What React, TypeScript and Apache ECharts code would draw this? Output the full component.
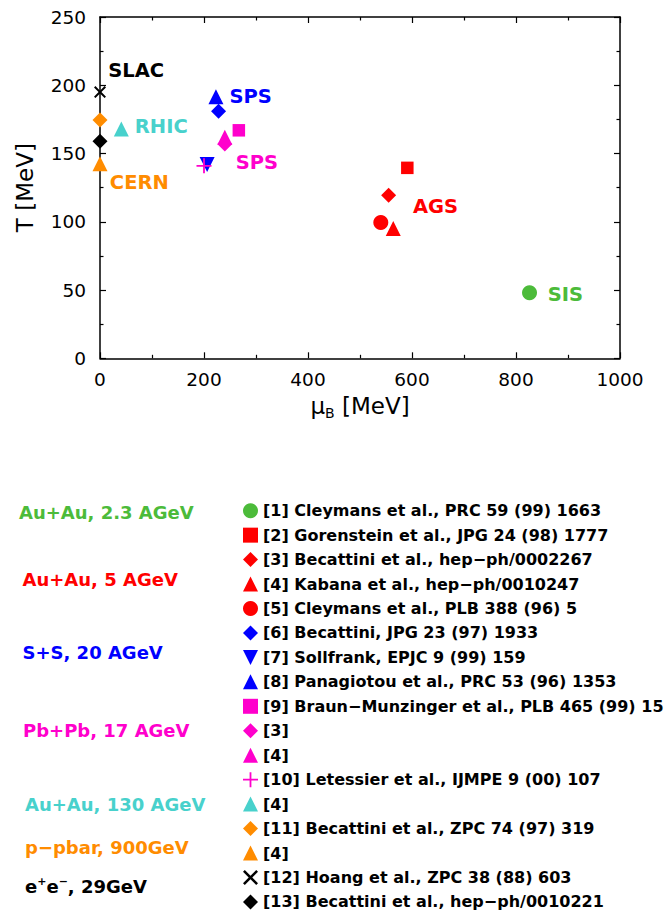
import React, { useEffect, useRef } from "react";
import * as echarts from "echarts";

const FONT = "DejaVu Sans";

// ---- reference series (legend order) ----
const refNames = [
  "[1] Cleymans et al., PRC 59 (99) 1663",
  "[2] Gorenstein et al., JPG 24 (98) 1777",
  "[3] Becattini et al., hep−ph/0002267",
  "[4] Kabana et al., hep−ph/0010247",
  "[5] Cleymans et al., PLB 388 (96) 5",
  "[6] Becattini, JPG 23 (97) 1933",
  "[7] Sollfrank, EPJC 9 (99) 159",
  "[8] Panagiotou et al., PRC 53 (96) 1353",
  "[9] Braun−Munzinger et al., PLB 465 (99) 15",
  "[3]",
  "[4]",
  "[10] Letessier et al., IJMPE 9 (00) 107",
  "[4]",
  "[11] Becattini et al., ZPC 74 (97) 319",
  "[4]",
  "[12] Hoang et al., ZPC 38 (88) 603",
  "[13] Becattini et al., hep−ph/0010221",
];

const GREEN = "#4cbb3a";
const RED = "#ff0000";
const BLUE = "#0000ff";
const MAGENTA = "#ff00cc";
const CYAN = "#48d1cc";
const ORANGE = "#ff8c00";
const BLACK = "#000000";

const refColors = [
  GREEN, RED, RED, RED, RED, BLUE, BLUE, BLUE,
  MAGENTA, MAGENTA, MAGENTA, MAGENTA, CYAN, ORANGE, ORANGE, BLACK, BLACK,
];

const INV_TRIANGLE = "path://M0,0L20,0L10,20Z";
const PLUS = "path://M0,8.8L20,8.8L20,11.2L0,11.2ZM8.8,0L11.2,0L11.2,20L8.8,20Z";
const CROSS =
  "path://M2.4,0L10,7.6L17.6,0L20,2.4L12.4,10L20,17.6L17.6,20L10,12.4L2.4,20L0,17.6L7.6,10L0,2.4Z";

const refSymbols = [
  "circle", "rect", "diamond", "triangle", "circle", "diamond", INV_TRIANGLE, "triangle",
  "rect", "diamond", "triangle", PLUS, "triangle", "diamond", "triangle", CROSS, "diamond",
];

const refSymbolSizes = [15, 12.5, 15, 15, 15, 15, 15, 15, 12.5, 15, 15, 15, 15, 15, 15, 12, 15];

// chemical potential mu_B [MeV]
const muB = [826, 591, 555, 564, 540, 228, 206, 223, 267, 240, 240, 200, 41, 0, 0, 0, 0];
// temperature T [MeV]
const temperature = [48, 139.5, 119.5, 95, 99.5, 181, 142, 191.5, 167, 157, 162, 141, 168, 174.5, 142.5, 195, 159];

// ---- labels of the accelerators inside the plot ----
const siteLabels = ["SLAC", "RHIC", "SPS", "SPS", "CERN", "AGS", "SIS"];
const siteColors = [BLACK, CYAN, BLUE, MAGENTA, ORANGE, RED, GREEN];
const siteMu = [15, 66, 248, 260, 18, 601, 860];
const siteT = [210.5, 170, 191.5, 143.5, 128.5, 111.5, 47];

// ---- collision-system labels on the left of the legend ----
const groupLabels = [
  "Au+Au, 2.3 AGeV",
  "Au+Au, 5 AGeV",
  "S+S, 20 AGeV",
  "Pb+Pb, 17 AGeV",
  "Au+Au, 130 AGeV",
  "p−pbar, 900GeV",
  "{n|e}{s|+}{n|e}{s|−}{n|, 29GeV}",
];
const groupColors = [GREEN, RED, BLUE, MAGENTA, CYAN, ORANGE, BLACK];
const groupX = [19, 22.5, 22.5, 23, 25, 25, 25];
const groupY = [512.3, 579, 652.2, 730.8, 804.2, 847, 886.7];

// axis ranges
const xMin = 0, xMax = 1000, xStep = 200;
const yMin = 0, yMax = 250, yStep = 50;

export default function App() {
  const ref = useRef<HTMLDivElement>(null);

  useEffect(() => {
    if (!ref.current) return;
    const chart = echarts.init(ref.current, undefined, { renderer: "svg" });

    const counts: Record<string, number> = {};
    const uniqueNames = refNames.map((n) => {
      const c = counts[n] || 0;
      counts[n] = c + 1;
      return n + "\u200b".repeat(c);
    });

    const axisLine = { show: true, onZero: false, lineStyle: { color: "#000", width: 1.5 } };
    const axisTick = { show: true, inside: true, length: 6, lineStyle: { color: "#000", width: 1.2 } };
    const minorTick = { show: true, splitNumber: 2, length: 3.5, lineStyle: { color: "#000", width: 1.2 } };
    const tickLabel = {
      fontFamily: FONT,
      fontSize: 18.5,
      color: "#000",
      formatter: (v: number) => String(v),
    };

    const refSeries = uniqueNames.map((name, i) => ({
      type: "scatter",
      name,
      xAxisIndex: 0,
      yAxisIndex: 0,
      data: [[muB[i], temperature[i]]],
      symbol: refSymbols[i],
      symbolSize: refSymbolSizes[i],
      itemStyle: { color: refColors[i], opacity: 1 },
      silent: true,
      z: 3,
    }));

    const labelSeries = {
      type: "scatter",
      name: "sites",
      xAxisIndex: 0,
      yAxisIndex: 0,
      symbolSize: 1,
      itemStyle: { color: "rgba(0,0,0,0)", opacity: 1 },
      silent: true,
      z: 4,
      label: {
        show: true,
        position: "right",
        distance: 0,
        fontFamily: FONT,
        fontSize: 19.5,
        fontWeight: "bold",
        opacity: 1,
      },
      data: siteLabels.map((t, i) => ({
        value: [siteMu[i], siteT[i]],
        label: { color: siteColors[i], formatter: t },
      })),
    };

    const graphics = groupLabels.map((t, i) => ({
      type: "text",
      x: groupX[i],
      y: groupY[i],
      silent: true,
      style: {
        text: t,
        fill: groupColors[i],
        fontFamily: FONT,
        fontSize: 18,
        fontWeight: "bold",
        align: "left",
        verticalAlign: "middle",
        rich: {
          n: { fontFamily: FONT, fontSize: 18, fontWeight: "bold", fill: groupColors[i], lineHeight: 22 },
          s: { fontFamily: FONT, fontSize: 11, fontWeight: "bold", fill: groupColors[i], lineHeight: 11, verticalAlign: "top" },
        },
      },
    }));

    chart.setOption({
      animation: false,
      backgroundColor: "#ffffff",
      grid: { left: 100, right: 45, top: 17, bottom: 554.7, containLabel: false },
      xAxis: [
        {
          type: "value",
          position: "bottom",
          min: xMin,
          max: xMax,
          interval: xStep,
          name: "{mu|μ}{sub|B}{t| [MeV]}",
          nameLocation: "middle",
          nameGap: 34,
          nameTextStyle: {
            fontFamily: FONT,
            fontSize: 23,
            color: "#000",
            rich: {
              mu: { fontFamily: FONT, fontSize: 23, color: "#000", lineHeight: 28 },
              t: { fontFamily: FONT, fontSize: 23, color: "#000", lineHeight: 28 },
              sub: { fontFamily: FONT, fontSize: 14, color: "#000", lineHeight: 14, verticalAlign: "bottom" },
            },
          },
          axisLine,
          axisTick,
          minorTick,
          splitLine: { show: false },
          minorSplitLine: { show: false },
          axisLabel: { ...tickLabel, margin: 11.5 },
        },
        {
          type: "value",
          position: "top",
          min: xMin,
          max: xMax,
          interval: xStep,
          axisLine,
          axisTick,
          minorTick,
          splitLine: { show: false },
          axisLabel: { show: false },
        },
      ],
      yAxis: [
        {
          type: "value",
          position: "left",
          min: yMin,
          max: yMax,
          interval: yStep,
          name: "T [MeV]",
          nameLocation: "middle",
          nameRotate: 90,
          nameGap: 63.5,
          nameTextStyle: { fontFamily: FONT, fontSize: 23, color: "#000" },
          axisLine,
          axisTick,
          minorTick,
          splitLine: { show: false },
          minorSplitLine: { show: false },
          axisLabel: { ...tickLabel, margin: 14 },
        },
        {
          type: "value",
          position: "right",
          min: yMin,
          max: yMax,
          interval: yStep,
          axisLine,
          axisTick,
          minorTick,
          splitLine: { show: false },
          axisLabel: { show: false },
        },
      ],
      legend: {
        orient: "vertical",
        left: 243,
        top: 500.7,
        padding: 0,
        itemGap: 4.45,
        itemWidth: 15,
        itemHeight: 15,
        selectedMode: false,
        data: uniqueNames,
        formatter: (n: string) => n.replace(/\u200b/g, ""),
        textStyle: { fontFamily: FONT, fontSize: 16, fontWeight: "bold", color: "#000", lineHeight: 20 },
      },
      graphic: graphics,
      series: [...refSeries, labelSeries],
    });

    return () => chart.dispose();
  }, []);

  return (
    <div
      ref={ref}
      style={{ position: "absolute", left: 0, top: 0, width: 665, height: 913, background: "#fff" }}
    />
  );
}
